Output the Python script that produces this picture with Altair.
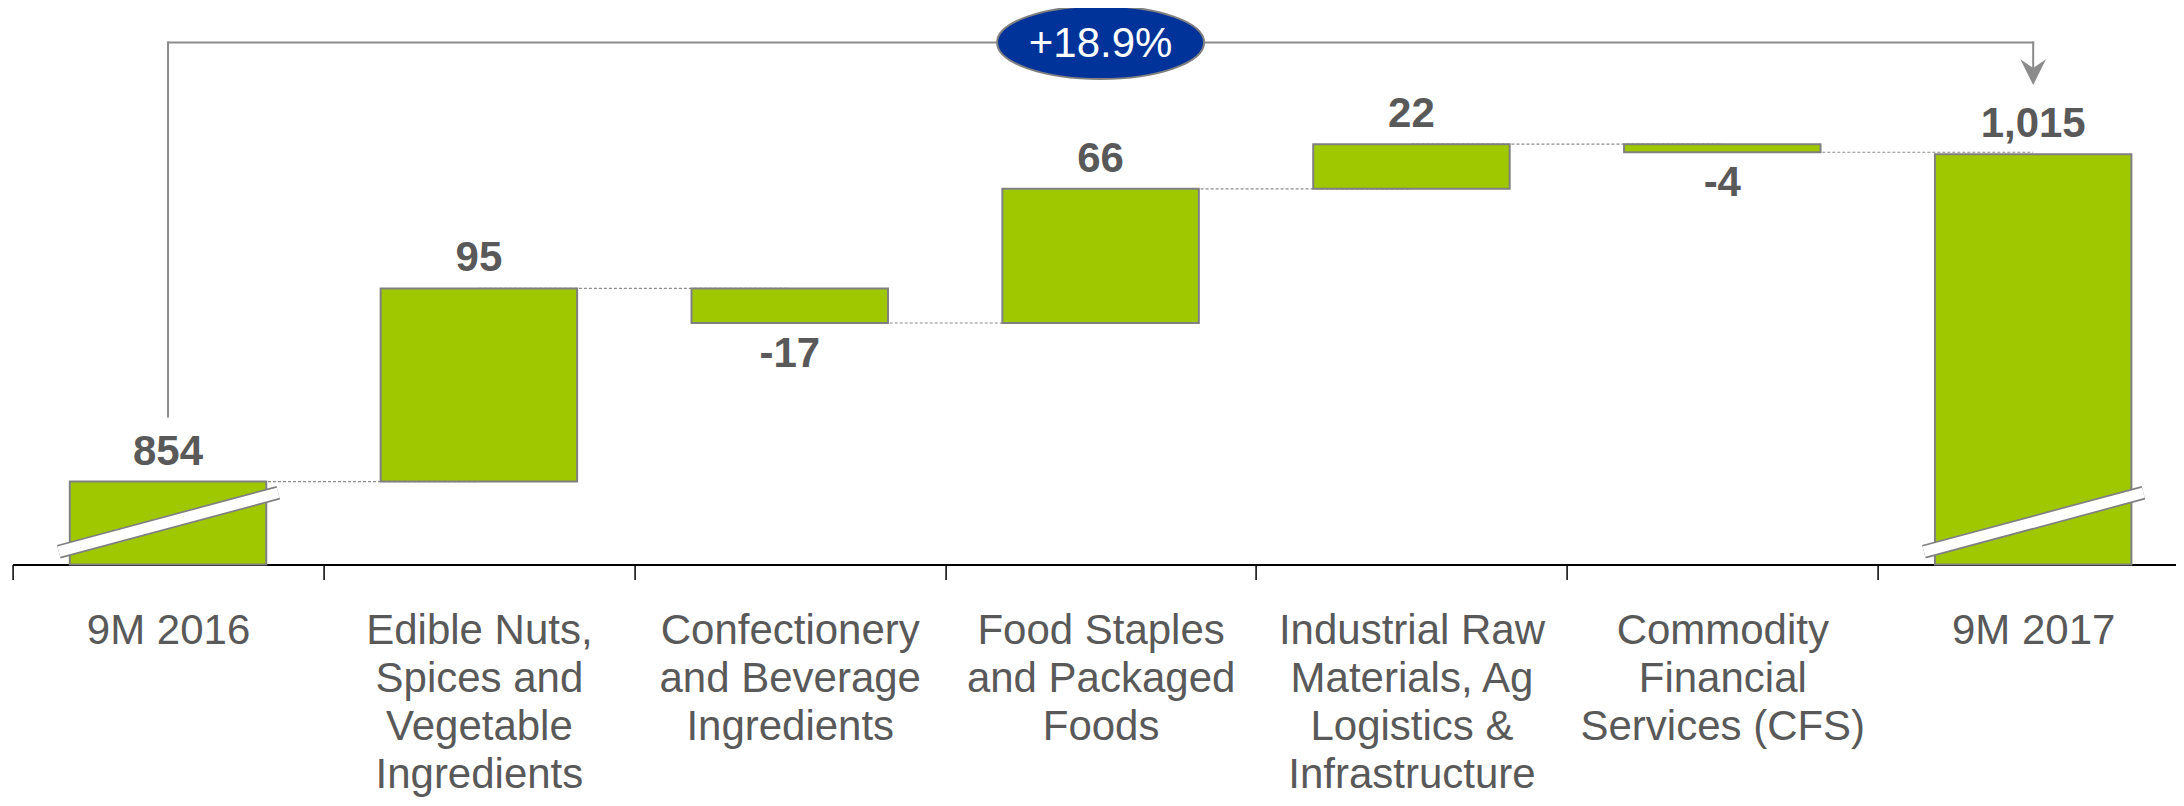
import altair as alt
import pandas as pd

# ---------------- data ----------------
categories = [
    "9M 2016",
    "Edible Nuts,\nSpices and\nVegetable\nIngredients",
    "Confectionery\nand Beverage\nIngredients",
    "Food Staples\nand Packaged\nFoods",
    "Industrial Raw\nMaterials, Ag\nLogistics &\nInfrastructure",
    "Commodity\nFinancial\nServices (CFS)",
    "9M 2017",
]
start_total = 854
changes = [95, -17, 66, 22, -4]
end_total = 1015
value_labels = ["854", "95", "-17", "66", "22", "-4", "1,015"]
growth_label = "+18.9%"

# broken value axis (data units)
axis_floor = 813.2
axis_top = 1085.0
break_low = 819.5
break_high = 848.5
bracket_base = 886.0
bracket_level = 1070.0
arrow_level = 1055.4
arrow_notch = 1057.4

# ---------------- derived tables ----------------
levels = [start_total]
for c in changes:
    levels.append(levels[-1] + c)

bar_rows = [dict(cat=categories[0], y0=0, y1=start_total, top=start_total,
                 bot=0, neg=False, label=value_labels[0])]
for i, c in enumerate(changes):
    a, b = levels[i], levels[i + 1]
    bar_rows.append(dict(cat=categories[i + 1], y0=a, y1=b, top=max(a, b),
                         bot=min(a, b), neg=c < 0, label=value_labels[i + 1]))
bar_rows.append(dict(cat=categories[-1], y0=0, y1=end_total, top=end_total,
                     bot=0, neg=False, label=value_labels[-1]))
df_bars = pd.DataFrame(bar_rows)

df_conn = pd.DataFrame([dict(cat=categories[i], cat2=categories[i + 1],
                             level=levels[i]) for i in range(len(categories) - 1)])

df_break = pd.DataFrame([dict(cat=categories[0], yb0=break_low, yb1=break_high),
                         dict(cat=categories[-1], yb0=break_low, yb1=break_high)])

df_vert = pd.DataFrame([dict(cat=categories[0], ya=bracket_base, yb=bracket_level),
                        dict(cat=categories[-1], ya=bracket_level, yb=arrow_notch)])
df_horiz = pd.DataFrame([dict(cat=categories[0], cat2=categories[-1], y=bracket_level)])
df_arrow = pd.DataFrame([dict(cat=categories[-1], y=arrow_level)])
df_badge = pd.DataFrame([dict(cat=categories[3], y=bracket_level, label=growth_label)])

# ---------------- styles ----------------
FONT = "Liberation Sans"
GREY_TXT = "#595959"
GREEN = "#A0C800"
EDGE = "#808080"
LINE = "#8C8C8C"
NAVY = "#003399"
BAR_FRAC = 0.632
B0 = (1 - BAR_FRAC) / 2
B1 = 1 - B0

xscale = alt.Scale(domain=categories, paddingInner=0, paddingOuter=0,
                   range=[0, 2176])
yscale = alt.Scale(domain=[axis_floor, axis_top], zero=False, nice=False, clamp=True)

xaxis = alt.Axis(
    title=None, labelAngle=0, labelExpr="split(datum.label, '\\n')",
    labelFont=FONT, labelFontSize=42, labelColor=GREY_TXT, labelLineHeight=48,
    labelPadding=31, labelLimit=500, labelOverlap=False, labelFlush=False,
    labelBound=False, tickBand="extent", tickSize=15, tickColor="black",
    tickWidth=1.5, domainColor="black", domainWidth=2.2, grid=False,
)


def X(field="cat", **kw):
    return alt.X(f"{field}:N", sort=categories, scale=xscale, axis=xaxis, **kw)


def Y(field):
    return alt.Y(f"{field}:Q", scale=yscale, axis=None)


connectors = alt.Chart(df_conn).mark_rule(
    color="#8C8C8C", strokeWidth=1.2, strokeDash=[3, 2]
).encode(x=X(), x2=alt.X2("cat2"), y=Y("level"))

bars = alt.Chart(df_bars).mark_bar(
    fill=GREEN, stroke=EDGE, strokeWidth=2, width=alt.RelativeBandSize(BAR_FRAC)
).encode(x=X(), y=Y("y0"), y2=alt.Y2("y1"))

break_edge = alt.Chart(df_break).mark_rule(
    color=EDGE, strokeWidth=14, strokeCap="butt", xOffset=-11, x2Offset=12
).encode(x=X(bandPosition=B0), x2=alt.X2("cat", bandPosition=B1),
         y=Y("yb0"), y2=alt.Y2("yb1"))

break_fill = alt.Chart(df_break).mark_rule(
    color="white", strokeWidth=10.6, strokeCap="butt", xOffset=-11, x2Offset=12
).encode(x=X(bandPosition=B0), x2=alt.X2("cat", bandPosition=B1),
         y=Y("yb0"), y2=alt.Y2("yb1"))

lab_pos = alt.Chart(df_bars).transform_filter("!datum.neg").mark_text(
    font=FONT, fontSize=42, fontWeight="bold", color=GREY_TXT,
    baseline="alphabetic", dy=-17
).encode(x=X(), y=Y("top"), text="label:N")

lab_neg = alt.Chart(df_bars).transform_filter("datum.neg").mark_text(
    font=FONT, fontSize=42, fontWeight="bold", color=GREY_TXT,
    baseline="alphabetic", dy=44
).encode(x=X(), y=Y("bot"), text="label:N")

vert = alt.Chart(df_vert).mark_rule(
    color=LINE, strokeWidth=2, strokeCap="square"
).encode(x=X(), y=Y("ya"), y2=alt.Y2("yb"))

horiz = alt.Chart(df_horiz).mark_rule(
    color=LINE, strokeWidth=2, strokeCap="square"
).encode(x=X(), x2=alt.X2("cat2"), y=Y("y"))

arrow = alt.Chart(df_arrow).mark_point(
    shape="M -1 -1 L 0 -0.33 L 1 -1 L 0 1 Z", size=660, filled=True,
    color=LINE, opacity=1
).encode(x=X(), y=Y("y"))

ELLIPSE = ("M -1 0 C -1 -0.195 -0.552 -0.353 0 -0.353 "
           "C 0.552 -0.353 1 -0.195 1 0 "
           "C 1 0.195 0.552 0.353 0 0.353 "
           "C -0.552 0.353 -1 0.195 -1 0 Z")
badge = alt.Chart(df_badge).mark_point(
    shape=ELLIPSE, size=42849, fill=NAVY, stroke=EDGE, strokeWidth=2,
    fillOpacity=1, opacity=1
).encode(x=X(), y=Y("y"))

badge_text = alt.Chart(df_badge).mark_text(
    font=FONT, fontSize=42, color="white", baseline="alphabetic", dy=15
).encode(x=X(), y=Y("y"), text="label:N")

chart = alt.layer(
    connectors, bars, break_edge, break_fill, lab_pos, lab_neg,
    vert, horiz, arrow, badge, badge_text
).properties(
    width=2163, height=552.5,
    autosize=alt.AutoSizeParams(type="none"),
    padding={"left": 4.6, "top": 4, "right": 0, "bottom": 233},
    background="white",
).configure_view(stroke=None)

chart.save("out.html", embed_options={"renderer": "svg", "actions": False})
